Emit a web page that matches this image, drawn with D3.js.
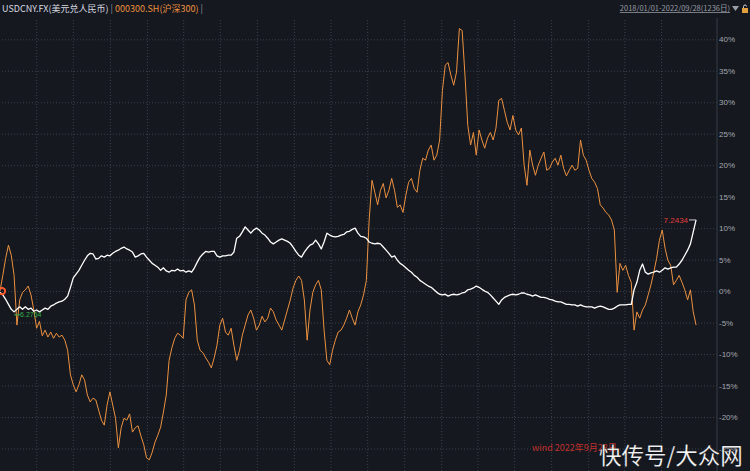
<!DOCTYPE html>
<html>
<head>
<meta charset="utf-8">
<script src="https://cdn.jsdelivr.net/npm/d3@7"></script>
<style>
    html, body { margin: 0; padding: 0; background: #15181f; }
    svg { display: block; font-family: "Noto Sans CJK SC", "Noto Sans", sans-serif; }
</style>
</head>
<body>
<svg id="chart" width="750" height="471"></svg>
<script>
// weekly samples, 2018-01-01 .. 2022-09-26, % change since start
const startDate = "2018-01-01";
const endDomain = "2022-11-17";

const csi300Pct = [
    0.0, 2.5, 5.2, 7.3, 5.7, 2.5, -5.4, -1.4, -0.2, 0.2, 0.8, -0.6, -3.0, -5.9, -4.8, -7.1,
    -6.2, -7.3, -6.5, -7.5, -6.7, -7.3, -7.0, -7.8, -9.4, -13.3, -14.9, -16.0, -14.9, -13.3, -14.1, -16.5,
    -17.6, -17.0, -17.3, -18.9, -20.5, -21.3, -18.1, -16.0, -18.1, -20.2, -24.9, -21.7, -20.2, -20.5, -19.5, -22.4,
    -21.7, -21.4, -23.0, -24.4, -26.5, -26.8, -25.6, -24.0, -22.9, -21.6, -19.2, -16.5, -11.0, -9.0, -7.5, -6.7,
    -7.0, -7.5, -1.4, -0.2, 0.2, -2.2, -7.8, -9.4, -9.8, -10.6, -11.3, -12.2, -10.6, -8.6, -5.4, -4.3,
    -6.5, -7.0, -5.9, -8.6, -11.0, -9.4, -7.0, -5.4, -3.8, -3.0, -4.3, -6.2, -5.4, -4.0, -4.9, -4.3,
    -2.7, -3.3, -4.6, -5.4, -6.2, -4.6, -3.0, -1.4, 0.5, 1.7, 2.4, 1.7, -1.4, -7.8, -3.0, -0.2,
    1.0, 1.7, 0.2, -6.2, -11.0, -11.7, -9.4, -7.8, -6.5, -6.2, -5.4, -4.3, -3.0, -4.3, -5.4, -3.3,
    -2.2, -0.6, 1.7, 11.3, 17.6, 15.7, 13.7, 16.0, 17.1, 14.8, 16.0, 17.9, 16.0, 13.3, 13.7, 12.5,
    15.2, 17.3, 17.9, 16.3, 15.7, 19.2, 21.1, 20.8, 22.4, 23.2, 20.8, 21.6, 24.0, 31.9, 35.9, 36.3,
    34.3, 32.7, 34.8, 41.7, 41.4, 34.3, 26.3, 23.2, 25.2, 21.6, 25.6, 24.0, 22.7, 24.3, 25.2, 24.0,
    25.9, 30.3, 30.6, 28.7, 26.8, 25.6, 27.9, 25.6, 24.8, 25.9, 20.0, 16.8, 22.4, 20.0, 18.4, 20.0,
    21.1, 22.1, 19.2, 19.5, 20.5, 21.1, 20.0, 21.6, 19.5, 18.3, 19.2, 20.0, 19.2, 19.5, 24.0, 21.6,
    20.8, 19.2, 17.9, 17.3, 16.3, 13.7, 13.2, 12.5, 12.1, 11.3, 9.7, -0.2, 4.4, 3.3, 4.1, 2.5,
    1.4, -6.2, -3.3, -4.3, -3.0, -2.2, -0.6, 1.0, 3.0, 5.2, 8.1, 9.7, 6.8, 4.9, 4.1, 1.0,
    1.7, 2.5, 1.4, 0.2, -1.4, 0.2, -3.3, -5.4
];

const usdcnyPct = [
    -0.2, -0.6, -1.3, -2.1, -2.9, -3.3, -2.9, -2.5, -2.9, -2.5, -2.9, -2.7, -3.2, -3.0, -3.3, -3.0,
    -2.7, -2.9, -2.4, -2.2, -1.9, -1.7, -1.6, -1.3, -0.8, 0.6, 2.1, 2.7, 3.3, 4.1, 4.9, 5.6,
    6.0, 5.9, 5.1, 5.2, 5.6, 5.4, 5.7, 5.6, 6.0, 6.3, 6.5, 6.8, 7.0, 6.7, 6.5, 6.2,
    5.4, 5.6, 5.9, 6.0, 5.4, 4.9, 4.4, 4.1, 3.8, 3.3, 3.7, 3.2, 3.0, 3.3, 3.2, 3.5,
    3.2, 3.3, 3.0, 3.2, 3.0, 3.7, 4.6, 5.4, 5.9, 6.3, 6.2, 6.3, 6.3, 5.6, 5.4, 5.6,
    5.6, 5.7, 5.7, 6.2, 8.4, 8.7, 9.4, 10.2, 9.7, 9.2, 9.7, 10.0, 9.7, 9.2, 8.9, 8.4,
    7.8, 7.5, 7.8, 8.1, 8.3, 8.1, 7.9, 7.6, 7.0, 6.3, 5.7, 5.4, 6.2, 6.8, 7.3, 7.5,
    8.1, 7.5, 6.7, 7.8, 9.2, 8.9, 8.7, 8.6, 8.7, 8.9, 9.0, 9.4, 9.5, 9.8, 10.0, 9.2,
    8.7, 8.6, 8.4, 7.8, 7.6, 7.5, 7.6, 7.5, 7.0, 6.5, 6.0, 5.4, 5.6, 4.9, 4.4, 4.1,
    3.7, 3.3, 3.0, 2.5, 2.2, 1.7, 1.4, 1.1, 0.8, 0.6, 0.2, -0.2, -0.5, -0.6, -0.5, -0.8,
    -0.6, -0.5, -0.6, -0.5, -0.3, -0.2, 0.2, 0.3, 0.5, 0.8, 0.6, 0.3, 0.0, -0.2, -0.6, -1.1,
    -1.6, -2.1, -1.4, -1.0, -0.8, -0.6, -0.5, -0.6, -0.5, -0.3, -0.3, -0.5, -0.6, -0.8, -0.6, -0.8,
    -1.0, -1.0, -1.1, -1.3, -1.4, -1.6, -1.7, -1.7, -1.9, -2.1, -2.1, -2.2, -2.2, -2.4, -2.2, -2.4,
    -2.5, -2.5, -2.5, -2.7, -2.5, -2.4, -2.5, -2.7, -2.9, -2.9, -2.7, -2.4, -2.2, -2.2, -2.2, -2.1,
    -2.1, 0.2, 1.4, 3.3, 4.3, 3.0, 2.7, 2.9, 3.0, 3.2, 3.0, 3.3, 3.7, 3.5, 3.7, 3.8,
    3.8, 4.3, 4.9, 5.7, 6.5, 7.5, 9.4, 11.3
];

const yTicks = [-25, -20, -15, -10, -5, 0, 5, 10, 15, 20, 25, 30, 35, 40];

const legendUsd = "USDCNY.FX(美元兑人民币)";
const legendCsi = "000300.SH(沪深300)";
const rangeLabel = "2018/01/01-2022/09/28(1236日)";
const lastLabel = "7.2434";
const minLabel = "6.2764";
const sourceLabel = "wind 2022年9月28日";
const watermark = "快传号/大众网";

function buildChart() {
    const svg = d3.select("#chart");
    const plotRight = 717;
    const plotTop = 18;
    const plotBottom = 471;

    const start = d3.isoParse(startDate);
    const dates = csi300Pct.map((_, i) => d3.timeDay.offset(start, 7 * i));

    const x = d3.scaleTime()
        .domain([start, d3.isoParse(endDomain)])
        .range([0, plotRight]);
    const y = d3.scaleLinear()
        .domain([-20, 40])
        .range([417, 39.3]);

    // background
    svg.append("rect")
        .attr("width", 750).attr("height", 471)
        .attr("fill", "#15181f");

    // vertical grid, one line per quarter
    const quarters = d3.timeMonth.every(3).range(d3.timeDay.offset(start, 1), d3.isoParse("2022-08-01"));
    svg.append("g")
        .attr("transform", `translate(0,${plotBottom})`)
        .call(d3.axisBottom(x).tickValues(quarters).tickSize(-(plotBottom - plotTop)).tickFormat(""))
        .call(g => g.select(".domain").remove())
        .call(g => g.selectAll(".tick line")
            .attr("stroke", "#3a404c")
            .attr("stroke-dasharray", "1,2"));

    // horizontal grid + right axis labels
    svg.append("g")
        .attr("transform", `translate(${plotRight},0)`)
        .call(d3.axisRight(y).tickValues(yTicks).tickSize(-plotRight).tickPadding(2)
            .tickFormat(d => d + "%"))
        .call(g => g.select(".domain").remove())
        .call(g => g.selectAll(".tick line")
            .attr("stroke", "#3a404c")
            .attr("stroke-dasharray", "1,2"))
        .call(g => g.selectAll(".tick text")
            .attr("fill", "#a4a8b0")
            .attr("font-size", 8)
            .attr("font-family", "Liberation Sans, Arial, sans-serif"));

    // right axis line
    svg.append("line")
        .attr("x1", plotRight).attr("x2", plotRight)
        .attr("y1", plotTop).attr("y2", plotBottom)
        .attr("stroke", "#343a46");

    const line = d3.line()
        .x((d, i) => x(dates[i]))
        .y(d => y(d));

    svg.append("path")
        .datum(csi300Pct)
        .attr("fill", "none")
        .attr("stroke", "#ec9140")
        .attr("stroke-width", 1)
        .attr("stroke-linejoin", "round")
        .attr("d", line);

    svg.append("path")
        .datum(usdcnyPct)
        .attr("fill", "none")
        .attr("stroke", "#ffffff")
        .attr("stroke-width", 1.3)
        .attr("stroke-linejoin", "round")
        .attr("d", line);

    // start marker
    svg.append("circle")
        .attr("cx", x(dates[0]) + 2)
        .attr("cy", y(0))
        .attr("r", 3.2)
        .attr("fill", "none")
        .attr("stroke", "#ff5a2a")
        .attr("stroke-width", 2);

    // min label (green)
    const iMin = d3.minIndex(usdcnyPct);
    const mx = x(dates[iMin]), my = y(usdcnyPct[iMin]);
    svg.append("line")
        .attr("x1", mx).attr("x2", mx + 6)
        .attr("y1", my + 3).attr("y2", my + 3)
        .attr("stroke", "#33b04a");
    svg.append("text")
        .attr("x", mx + 6).attr("y", my + 5.5)
        .attr("fill", "#33b04a")
        .attr("font-size", 7)
        .attr("font-family", "Liberation Sans, Arial, sans-serif")
        .text(minLabel);

    // last value label (red)
    const iLast = usdcnyPct.length - 1;
    const lx = x(dates[iLast]), ly = y(usdcnyPct[iLast]);
    svg.append("line")
        .attr("x1", lx - 7).attr("x2", lx)
        .attr("y1", ly).attr("y2", ly)
        .attr("stroke", "#c8ccd4");
    svg.append("text")
        .attr("x", lx - 8).attr("y", ly + 2.8)
        .attr("text-anchor", "end")
        .attr("fill", "#e23c3c")
        .attr("font-size", 8)
        .attr("font-family", "Liberation Sans, Arial, sans-serif")
        .text(lastLabel);

    // header legend
    const head = svg.append("text")
        .attr("x", 2).attr("y", 12)
        .attr("font-size", 9);
    head.append("tspan").attr("fill", "#d8dae0").text(legendUsd);
    head.append("tspan").attr("fill", "#8a8e96").text(" | ");
    head.append("tspan").attr("fill", "#ec9140").text(legendCsi);
    head.append("tspan").attr("fill", "#8a8e96").text(" |");

    svg.append("text")
        .attr("x", 730).attr("y", 11)
        .attr("text-anchor", "end")
        .attr("fill", "#9a9ea6")
        .attr("font-size", 7.5)
        .attr("text-decoration", "underline")
        .text(rangeLabel);
    svg.append("path")
        .attr("d", "M732,6 L739,6 L735.5,11 Z")
        .attr("fill", "#9a9ea6");
    // little lock
    svg.append("rect")
        .attr("x", 742).attr("y", 8).attr("width", 6).attr("height", 5)
        .attr("fill", "#e0a040");
    svg.append("path")
        .attr("d", "M743.5,8 V6.5 a1.5,1.5 0 0 1 3,0")
        .attr("fill", "none")
        .attr("stroke", "#d0d0d0")
        .attr("stroke-width", 1);

    // source + watermark
    svg.append("text")
        .attr("x", 532).attr("y", 451)
        .attr("fill", "#c0302c")
        .attr("font-size", 9)
        .text(sourceLabel);
    svg.append("text")
        .attr("x", 599).attr("y", 464)
        .attr("fill", "#ffffff")
        .attr("font-size", 22.5)
        .attr("stroke", "rgba(0,0,0,0.35)")
        .attr("stroke-width", 0.6)
        .text(watermark);
}

buildChart();
</script>
</body>
</html>
